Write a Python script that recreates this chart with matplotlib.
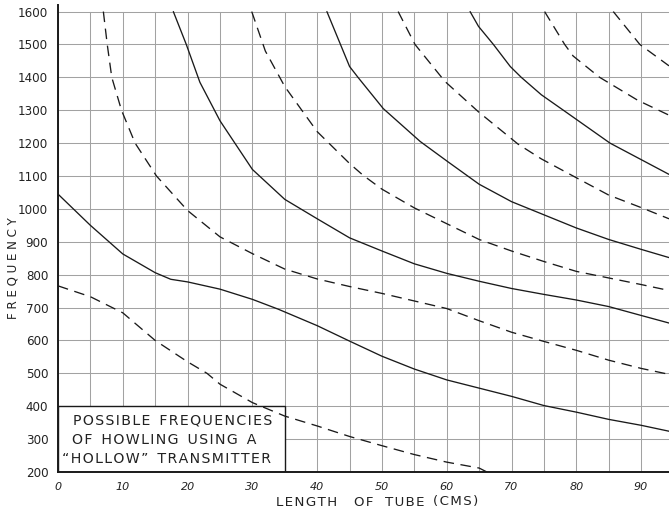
import matplotlib
matplotlib.use("Agg")
import matplotlib.pyplot as plt
from matplotlib.patches import Rectangle

# Tube length (cm) / frequency pairs for each howling mode
a_len = [0, 5, 10, 15, 17.4, 20, 25, 30, 34, 40, 45, 50, 55, 60, 65, 70, 75, 80, 85, 90, 94.3]
a_freq = [1045, 950, 863, 806, 786, 778, 756, 725, 695, 645, 598, 552, 513, 480, 455, 430, 402, 382, 360, 342, 324]

b_len = [0, 5, 10, 15, 20, 23, 25, 30, 35, 40, 45, 50, 55, 60, 65, 66.2]
b_freq = [766, 733, 684, 600, 535, 500, 467, 411, 370, 340, 308, 280, 253, 230, 212, 200]

c_len = [7.0, 7.6, 8.3, 9.8, 11.9, 15.2, 20, 25, 30, 35, 40, 45, 50, 55, 60, 65, 70, 75, 80, 85, 90, 94.3]
c_freq = [1600, 1500, 1400, 1300, 1200, 1100, 995, 915, 864, 817, 787, 764, 743, 720, 697, 660, 625, 597, 570, 540, 515, 497]

d_len = [17.8, 19.8, 21.9, 25, 30, 35, 40, 45, 50, 55, 60, 65, 70, 75, 80, 85, 90, 94.3]
d_freq = [1600, 1500, 1385, 1268, 1120, 1029, 970, 912, 872, 833, 804, 780, 758, 740, 723, 703, 676, 653]

e_len = [29.9, 32, 35, 40, 45, 47.1, 50, 55, 60, 65, 70, 75, 80, 85, 90, 94.3]
e_freq = [1600, 1480, 1372, 1235, 1138, 1102, 1060, 1003, 955, 907, 872, 840, 810, 790, 770, 752]

f_len = [41.5, 45, 46.3, 50.2, 55.9, 60.2, 65, 70, 75, 80, 85, 90, 94.3]
f_freq = [1600, 1433, 1400, 1305, 1205, 1143, 1075, 1022, 982, 942, 907, 877, 852]

g_len = [52.5, 55.1, 59.7, 64.9, 71.0, 74.6, 79.5, 85, 90, 94.3]
g_freq = [1600, 1500, 1388, 1295, 1197, 1152, 1100, 1042, 1004, 970]

h_len = [63.6, 64.9, 67.2, 69.8, 71.5, 74.6, 78.0, 85.2, 94.3]
h_freq = [1600, 1555, 1500, 1433, 1400, 1347, 1300, 1200, 1105]

i_len = [75.1, 78.2, 79.5, 83.6, 89.5, 94.3]
i_freq = [1600, 1500, 1465, 1400, 1330, 1285]

j_len = [85.7, 89.8, 94.3]
j_freq = [1600, 1500, 1435]

solid_curves = [(a_len, a_freq), (d_len, d_freq), (f_len, f_freq), (h_len, h_freq)]
dashed_curves = [(b_len, b_freq), (c_len, c_freq), (e_len, e_freq),
                 (g_len, g_freq), (i_len, i_freq), (j_len, j_freq)]

x_ticks = [0, 10, 20, 30, 40, 50, 60, 70, 80, 90]
y_ticks = list(range(200, 1700, 100))
x_grid = list(range(0, 100, 5))

caption_lines = ["POSSIBLE  FREQUENCIES", "OF  HOWLING  USING  A", "\u201cHOLLOW\u201d  TRANSMITTER"]
xlabel_words = ["LENGTH", "OF", "TUBE", "(CMS)"]


def spaced(text, gap="\u200a"):
    """Hand-lettered look: a hair space between the letters of each word."""
    return "  ".join(gap.join(word) for word in text.split())


plt.rcParams["font.family"] = ["DejaVu Sans"]
ink = "#1a1a1a"

fig = plt.figure(figsize=(6.69, 5.11), dpi=100)
ax = fig.add_axes([58 / 669, 1 - 472 / 511, 1 - 58 / 669, (472 - 5) / 511])
ax.set_xlim(0, 94.3)
ax.set_ylim(200, 1620)

# graph-paper grid
for gx in x_grid:
    ax.plot([gx, gx], [200, 1600], color="#a2a2a2", lw=0.75, zorder=1)
for gy in y_ticks:
    ax.plot([0, 94.3], [gy, gy], color="#a2a2a2", lw=0.75, zorder=1)

for xs, ys in solid_curves:
    ax.plot(xs, ys, color=ink, lw=0.95, zorder=3,
            solid_capstyle="round", solid_joinstyle="round")
for xs, ys in dashed_curves:
    ax.plot(xs, ys, color=ink, lw=0.95, zorder=3, linestyle=(0, (8, 5)))

for side in ("top", "right"):
    ax.spines[side].set_visible(False)
for side in ("left", "bottom"):
    ax.spines[side].set_linewidth(1.4)
    ax.spines[side].set_color(ink)

ax.set_xticks(x_ticks)
ax.set_xticklabels([str(v) for v in x_ticks], fontsize=8, style="italic", color="#222222")
ax.set_yticks(y_ticks)
ax.set_yticklabels([str(v) for v in y_ticks], fontsize=8.6, color="#222222")
ax.tick_params(axis="both", length=0)
ax.tick_params(axis="x", pad=7)
ax.tick_params(axis="y", pad=7)

# caption box in the lower-left corner
ax.add_patch(Rectangle((0, 200), 35, 200, facecolor="white", edgecolor=ink,
                       lw=1.0, zorder=2))
for (cx, cy), line in zip([(2.3, 356), (2.2, 297), (0.6, 241)], caption_lines):
    ax.text(cx, cy, spaced(line), ha="left", va="center", fontsize=10.2,
            color="#222222", zorder=4)

# axis titles
for px, word in zip([307, 364, 405, 456], xlabel_words):
    fig.text(px / 669, 1 - 502 / 511, spaced(word), ha="center", va="center",
             fontsize=9.6, color="#222222")
fig.text(13 / 669, 1 - 268 / 511, " ".join("FREQUENCY"), ha="center", va="center",
         rotation=90, fontsize=8.6, color="#222222")

fig.savefig("out.png", dpi=100, facecolor="white")
